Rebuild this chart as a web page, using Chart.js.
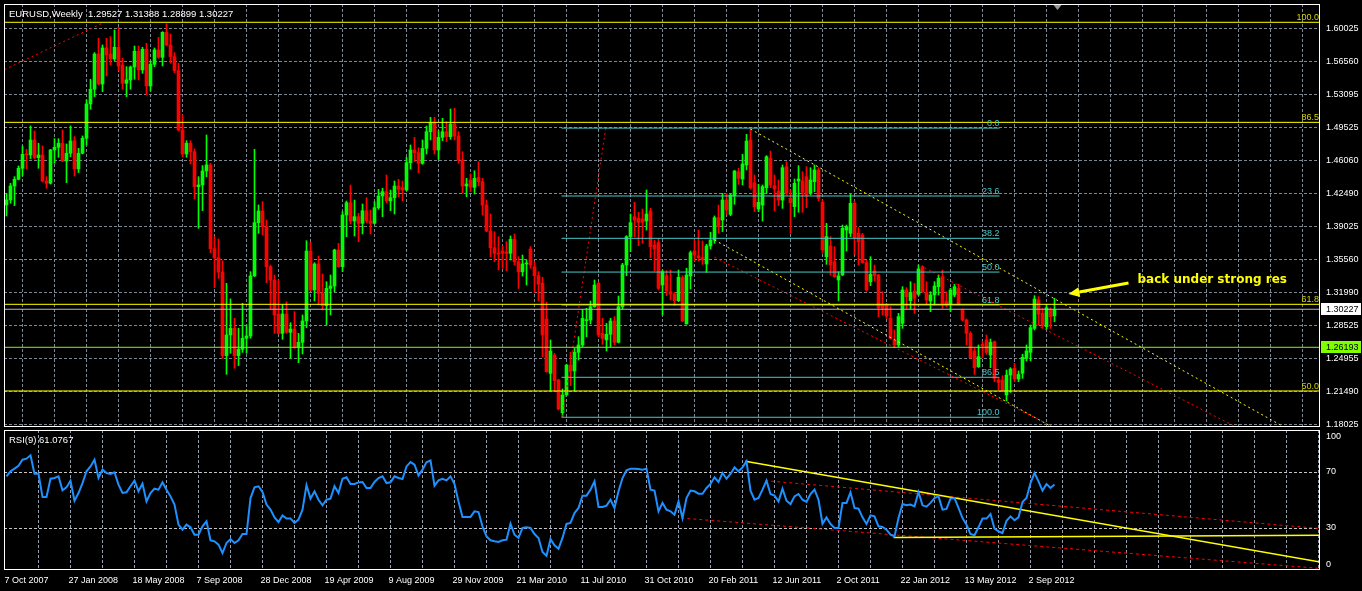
<!DOCTYPE html>
<html><head><meta charset="utf-8">
<script src="https://cdn.jsdelivr.net/npm/chart.js@4.4.1/dist/chart.umd.min.js"></script>
<style>
html,body{margin:0;padding:0;background:#000;width:1362px;height:591px;overflow:hidden}
#c1{position:absolute;left:0;top:0}
#c2{position:absolute;left:0;top:428px}
</style></head><body>
<canvas id="c1" width="1362" height="428"></canvas>
<canvas id="c2" width="1362" height="163"></canvas>
<script>
// ---------------- DATA ----------------
const titleText = 'EURUSD,Weekly  1.29527 1.31388 1.28899 1.30227';
const rsiTitle = 'RSI(9) 61.0767';
const dateLabels = ['7 Oct 2007','27 Jan 2008','18 May 2008','7 Sep 2008','28 Dec 2008','19 Apr 2009','9 Aug 2009','29 Nov 2009','21 Mar 2010','11 Jul 2010','31 Oct 2010','20 Feb 2011','12 Jun 2011','2 Oct 2011','22 Jan 2012','13 May 2012','2 Sep 2012'];
const priceTickValues = [1.60025,1.56525,1.53025,1.49525,1.46025,1.42525,1.39025,1.35525,1.32025,1.28525,1.25025,1.21525,1.18025];
const priceTickLabels = ['1.60025','1.56560','1.53095','1.49525','1.46060','1.42490','1.39025','1.35560','1.31990','1.28525','1.24955','1.21490','1.18025'];
const rsiTickValues = [95.7,70,30,4.1];
const rsiTickLabels = ['100','70','30','0'];

const openP = [
1.4129,1.4182,1.4330,1.4401,1.4518,1.4666,1.4659,1.4818,1.4631,1.4659,
1.4383,1.4359,1.4712,1.4740,1.4783,1.4595,1.4677,1.4808,1.4511,1.4677,
1.4836,1.5200,1.5356,1.5730,1.5412,1.5794,1.5730,1.5677,1.5801,1.5614,
1.5419,1.5455,1.5592,1.5759,1.5561,1.5780,1.5391,1.5621,1.5773,1.5695,
1.5960,1.5826,1.5702,1.5554,1.4924,1.4670,1.4783,1.4694,1.4323,1.4341,
1.4489,1.4553,1.3666,1.3570,1.3418,1.2531,1.2750,1.2821,1.2531,1.2598,
1.2715,1.2739,1.3376,1.3941,1.4065,1.3899,1.3474,1.3333,1.2972,1.2767,
1.2972,1.2778,1.2813,1.2619,1.2672,1.2898,1.3640,1.3227,1.3503,1.3191,
1.3061,1.3244,1.3269,1.3651,1.3474,1.4022,1.4153,1.3959,1.4005,1.3934,
1.4068,1.3959,1.3934,1.4100,1.4224,1.4270,1.4171,1.4206,1.4330,1.4312,
1.4287,1.4577,1.4712,1.4683,1.4570,1.4729,1.4906,1.5002,1.4712,1.4846,
1.4906,1.4853,1.4987,1.4860,1.4606,1.4330,1.4393,1.4316,1.4422,1.4376,
1.4128,1.3852,1.3676,1.3616,1.3640,1.3630,1.3616,1.3764,1.3527,1.3420,
1.3503,1.3662,1.3474,1.3379,1.3300,1.2919,1.2343,1.2537,1.2272,1.1926,
1.2113,1.2430,1.2368,1.2566,1.2644,1.2902,1.2909,1.3050,1.3298,1.2767,
1.2697,1.2757,1.2898,1.2672,1.3050,1.3492,1.3793,1.4005,1.3987,1.3980,
1.3959,1.4065,1.3704,1.3729,1.3280,1.3379,1.3209,1.3184,1.3114,1.3358,
1.2866,1.3376,1.3641,1.3591,1.3570,1.3503,1.3694,1.3757,1.3994,1.3969,
1.4181,1.4029,1.4227,1.4482,1.4404,1.4553,1.4818,1.4365,1.4086,1.4128,
1.4312,1.4623,1.4334,1.4277,1.4181,1.4535,1.4199,1.4111,1.4383,1.4383,
1.4429,1.4252,1.4376,1.4500,1.4157,1.3580,1.3694,1.3527,1.3333,1.3386,
1.3863,1.3828,1.4146,1.3828,1.3810,1.3517,1.3315,1.3428,1.3386,1.3075,
1.3068,1.2926,1.2697,1.2644,1.2873,1.3227,1.3114,1.3216,1.3181,1.3474,
1.3202,1.3110,1.3174,1.3262,1.3368,1.3110,1.3075,1.3174,1.3245,1.3015,
1.2909,1.2767,1.2580,1.2414,1.2650,1.2697,1.2537,1.2679,1.2272,1.2272,
1.2113,1.2325,1.2396,1.2283,1.2343,1.2502,1.2566,1.2820,1.3121,1.2979,
1.2838,1.3022,1.29527];

const highP = [
1.4253,1.4359,1.4429,1.4543,1.4755,1.4719,1.4967,1.4914,1.4783,1.4755,
1.4429,1.4719,1.4832,1.4832,1.4924,1.4776,1.4967,1.4854,1.4730,1.4861,
1.5243,1.5462,1.5745,1.5897,1.5826,1.5897,1.5914,1.5985,1.6013,1.5684,
1.5596,1.5603,1.5815,1.5815,1.5801,1.5844,1.5656,1.5794,1.5907,1.5967,
1.6049,1.5942,1.5745,1.5631,1.5083,1.4811,1.4811,1.4723,1.4429,1.4546,
1.4871,1.4571,1.3793,1.3768,1.3538,1.3298,1.3132,1.2927,1.2821,1.3086,
1.2856,1.3422,1.4719,1.4129,1.4164,1.3969,1.3492,1.3386,1.3333,1.3068,
1.3103,1.2880,1.2997,1.2767,1.2962,1.3750,1.3732,1.3517,1.3587,1.3397,
1.3315,1.3386,1.3660,1.3722,1.4058,1.4171,1.4340,1.4181,1.4040,1.4139,
1.4206,1.4075,1.4164,1.4295,1.4305,1.4447,1.4287,1.4383,1.4401,1.4383,
1.4634,1.4765,1.4846,1.4736,1.4818,1.4966,1.5058,1.5058,1.4917,1.5048,
1.5012,1.5147,1.5154,1.4906,1.4694,1.4411,1.4457,1.4492,1.4588,1.4411,
1.4181,1.4033,1.3845,1.3792,1.3693,1.3739,1.3800,1.3821,1.3580,1.3598,
1.3545,1.3686,1.3527,1.3421,1.3361,1.3096,1.2697,1.2555,1.2280,1.2177,
1.2440,1.2566,1.2608,1.2732,1.3022,1.3033,1.3110,1.3333,1.3308,1.2926,
1.2873,1.2926,1.2944,1.3163,1.3510,1.3803,1.4033,1.4157,1.4051,1.4086,
1.4288,1.4093,1.3757,1.3775,1.3439,1.3432,1.3439,1.3202,1.3439,1.3379,
1.3457,1.3641,1.3757,1.3863,1.3747,1.3711,1.3839,1.4012,1.4128,1.4252,
1.4252,1.4245,1.4495,1.4517,1.4666,1.4878,1.4935,1.4447,1.4348,1.4341,
1.4652,1.4701,1.4447,1.4394,1.4553,1.4588,1.4288,1.4404,1.4546,1.4482,
1.4535,1.4524,1.4553,1.4524,1.4181,1.3934,1.3793,1.3686,1.3421,1.3916,
1.3916,1.4242,1.4171,1.3888,1.3828,1.3545,1.3580,1.3492,1.3395,1.3209,
1.3086,1.3050,1.2803,1.2979,1.3262,1.3252,1.3315,1.3298,1.3492,1.3485,
1.3315,1.3209,1.3315,1.3386,1.3439,1.3209,1.3245,1.3287,1.3287,1.3025,
1.2920,1.2785,1.2608,1.2644,1.2679,1.2750,1.2707,1.2686,1.2290,1.2318,
1.2378,1.2403,1.2449,1.2368,1.2545,1.2644,1.2856,1.3167,1.3156,1.3033,
1.3075,1.3039,1.31388];

const lowP = [
1.4012,1.4147,1.4122,1.4395,1.4436,1.4511,1.4620,1.4620,1.4518,1.4373,
1.4306,1.4350,1.4571,1.4634,1.4588,1.4366,1.4641,1.4436,1.4472,1.4670,
1.4765,1.5144,1.5278,1.5402,1.5331,1.5497,1.5614,1.5660,1.5554,1.5356,
1.5278,1.5356,1.5462,1.5455,1.5525,1.5296,1.5338,1.5596,1.5684,1.5603,
1.5815,1.5631,1.5532,1.4914,1.4641,1.4634,1.4564,1.4192,1.3881,1.4069,
1.4429,1.3623,1.3252,1.3351,1.2502,1.2333,1.2556,1.2397,1.2425,1.2566,
1.2556,1.2715,1.3369,1.3828,1.3811,1.3305,1.3022,1.2767,1.2760,1.2704,
1.2767,1.2502,1.2608,1.2456,1.2548,1.2827,1.3220,1.3110,1.3068,1.3015,
1.2856,1.2962,1.3209,1.3467,1.3421,1.3792,1.3927,1.3799,1.3739,1.3821,
1.3941,1.3821,1.3927,1.4082,1.4005,1.4153,1.4068,1.4033,1.4217,1.4174,
1.4280,1.4510,1.4588,1.4471,1.4560,1.4669,1.4818,1.4669,1.4613,1.4811,
1.4800,1.4825,1.4818,1.4570,1.4259,1.4217,1.4270,1.4245,1.4330,1.4022,
1.3845,1.3580,1.3527,1.3439,1.3457,1.3432,1.3545,1.3492,1.3244,1.3375,
1.3280,1.3457,1.3202,1.3114,1.2520,1.2354,1.2156,1.2156,1.1954,1.1883,
1.2105,1.2212,1.2156,1.2484,1.2626,1.2732,1.2866,1.3043,1.2732,1.2651,
1.2580,1.2626,1.2644,1.2665,1.3025,1.3379,1.3633,1.3793,1.3697,1.3722,
1.3863,1.3570,1.3428,1.3227,1.2962,1.3167,1.3121,1.3061,1.3103,1.2891,
1.2866,1.3237,1.3534,1.3534,1.3499,1.3414,1.3662,1.3722,1.3828,1.3846,
1.4029,1.4015,1.4136,1.4348,1.4341,1.4500,1.4298,1.4058,1.4058,1.3959,
1.4252,1.4312,1.4065,1.4121,1.4093,1.4234,1.3828,1.4005,1.4051,1.4051,
1.4100,1.4234,1.4270,1.4171,1.3616,1.3499,1.3386,1.3360,1.3110,1.3380,
1.3641,1.3793,1.3605,1.3492,1.3510,1.3216,1.3273,1.3322,1.2944,1.2962,
1.2926,1.2707,1.2615,1.2626,1.2820,1.3025,1.3025,1.2979,1.3167,1.3202,
1.3075,1.2997,1.3068,1.3174,1.3033,1.3050,1.2997,1.3156,1.3068,1.2898,
1.2644,1.2502,1.2332,1.2405,1.2509,1.2545,1.2403,1.2255,1.2166,1.2149,
1.2050,1.2141,1.2255,1.2255,1.2290,1.2474,1.2474,1.2803,1.2856,1.2820,
1.2813,1.2820,1.28899];

const closeP = [
1.4182,1.4330,1.4401,1.4518,1.4666,1.4659,1.4818,1.4631,1.4659,1.4383,
1.4359,1.4712,1.4740,1.4783,1.4595,1.4677,1.4808,1.4511,1.4677,1.4836,
1.5200,1.5356,1.5730,1.5412,1.5794,1.5720,1.5677,1.5801,1.5603,1.5419,
1.5455,1.5592,1.5759,1.5561,1.5780,1.5391,1.5621,1.5773,1.5695,1.5960,
1.5826,1.5702,1.5554,1.4924,1.4670,1.4783,1.4694,1.4323,1.4341,1.4489,
1.4553,1.3666,1.3570,1.3418,1.2531,1.2750,1.2821,1.2531,1.2598,1.2715,
1.2739,1.3376,1.3941,1.4065,1.3899,1.3474,1.3333,1.2962,1.2767,1.2972,
1.2778,1.2813,1.2619,1.2672,1.2898,1.3640,1.3227,1.3503,1.3191,1.3061,
1.3244,1.3269,1.3651,1.3474,1.4022,1.4153,1.3959,1.4005,1.3934,1.4068,
1.3959,1.3934,1.4100,1.4224,1.4270,1.4171,1.4206,1.4330,1.4295,1.4287,
1.4577,1.4712,1.4683,1.4570,1.4729,1.4906,1.5002,1.4712,1.4846,1.4906,
1.4853,1.4987,1.4860,1.4606,1.4330,1.4351,1.4316,1.4411,1.4376,1.4128,
1.3852,1.3676,1.3616,1.3609,1.3616,1.3616,1.3764,1.3527,1.3420,1.3503,
1.3510,1.3492,1.3379,1.3290,1.2750,1.2361,1.2580,1.2265,1.1965,1.2113,
1.2430,1.2368,1.2566,1.2644,1.2926,1.2909,1.3050,1.3280,1.2750,1.2714,
1.2757,1.2898,1.2672,1.3050,1.3492,1.3793,1.3941,1.3969,1.3945,1.3945,
1.4033,1.3687,1.3662,1.3245,1.3421,1.3216,1.3184,1.3114,1.3361,1.2898,
1.3386,1.3623,1.3598,1.3570,1.3545,1.3694,1.3757,1.3994,1.3899,1.4181,
1.4075,1.4234,1.4489,1.4411,1.4563,1.4807,1.4312,1.4111,1.4157,1.4323,
1.4641,1.4341,1.4298,1.4181,1.4524,1.4252,1.4153,1.4358,1.4404,1.4263,
1.4234,1.4394,1.4500,1.4199,1.3651,1.3793,1.3492,1.3368,1.3375,1.3881,
1.3899,1.4146,1.3782,1.3740,1.3517,1.3227,1.3393,1.3379,1.3039,1.3033,
1.2951,1.2714,1.2644,1.2944,1.3227,1.3156,1.3202,1.3139,1.3450,1.3209,
1.3121,1.3174,1.3269,1.3351,1.3086,1.3075,1.3227,1.3262,1.3075,1.2909,
1.2767,1.2509,1.2403,1.2520,1.2636,1.2566,1.2672,1.2290,1.2247,1.2156,
1.2325,1.2389,1.2283,1.2332,1.2513,1.2580,1.2827,1.3131,1.2969,1.2856,
1.3039,1.2944,1.30227];

const rsi9 = [
66.9,70.5,72.4,74.5,78.8,79.5,81.9,68.8,68.8,52.1,
52.1,65.2,65.7,66.9,56.9,59.0,63.8,49.5,55.0,62.1,
70.5,74.0,78.8,65.7,71.7,69.3,68.6,69.8,61.0,55.0,
55.5,59.8,63.8,56.2,61.7,49.0,55.0,58.1,57.4,62.6,
57.4,52.6,46.7,32.4,28.8,32.4,30.5,25.2,25.2,31.2,
34.8,21.2,20.5,18.1,12.1,19.3,22.1,19.3,21.2,25.7,
25.7,51.4,59.0,59.8,55.7,46.7,43.1,37.6,34.3,39.0,
36.7,36.7,33.6,36.0,43.1,60.5,51.0,56.2,50.2,46.2,
50.2,51.0,59.8,55.0,65.2,66.2,61.4,61.4,62.6,62.9,
58.6,58.6,62.9,65.7,66.9,62.1,62.6,66.9,65.7,65.0,
74.0,77.1,75.2,67.4,71.7,76.9,78.3,60.2,64.0,65.2,
64.0,66.9,61.4,49.0,37.9,37.9,37.9,41.9,41.4,31.2,
24.0,21.2,20.5,20.0,21.2,21.7,33.1,25.2,22.9,30.0,
30.5,30.0,25.7,22.9,12.9,10.2,22.1,17.6,15.2,22.9,
32.9,33.6,40.7,44.3,53.1,53.1,57.4,63.3,45.0,45.0,
46.0,50.2,44.3,56.2,65.7,71.2,72.4,72.4,72.1,71.7,
72.4,57.4,56.7,41.9,47.9,43.1,41.9,39.5,49.0,37.1,
51.4,56.7,56.2,54.5,54.5,58.6,61.5,66.2,62.9,69.3,
65.2,68.6,73.3,70.5,73.3,77.6,56.7,50.2,51.4,57.4,
63.8,54.3,53.1,49.0,58.1,49.5,47.1,52.6,54.3,50.2,
48.6,54.3,57.4,50.2,33.1,37.6,32.9,30.0,30.0,47.9,
47.9,55.5,44.3,43.8,37.6,32.9,39.0,38.3,31.2,30.7,
28.8,25.2,24.0,37.1,47.1,46.2,46.7,45.5,55.7,46.2,
45.2,47.9,51.4,52.6,43.1,43.6,51.0,51.4,44.3,37.1,
32.4,25.7,24.8,30.5,36.7,36.7,40.0,29.5,27.6,26.4,
35.2,38.3,35.5,37.6,48.6,51.4,62.1,69.3,63.3,56.7,
61.4,58.6,61.08];

// horizontal levels (full width)
const yellowFibLabels = ['100.0','86.5','61.8','50.0'];
const yellowFibPrices = [1.6066,1.5005,1.3075,1.2156];
const currentPrice = 1.30227;
const greenLevel = 1.26193;
// cyan fibonacci retracement
const cyanFibLabels = ['0.0','23.6','38.2','50.0','61.8','86.5','100.0'];
const cyanFibPrices = [1.4944,1.4224,1.3775,1.3417,1.3068,1.2301,1.1877];
const cyanFibFrom = 138.75, cyanFibTo = 248.25;
// trend lines on price panel [x1, y1, x2, y2]
const redDotLines = [[-0.5,1.5564,24.25,1.6062],[139,1.1883,149.8,1.4942],[177,1.3574,261.75,1.1774],[229.5,1.3463,307.25,1.1777]];
const yellowDotLines = [[186,1.4934,318.5,1.1795],[177,1.3757,261.4,1.1774]];
// RSI panel lines
const rsiYellowLines = [[184.7,77.6,328.5,5.6],[221.75,23.3,328.5,24.8]];
const rsiRedDotLines = [[189.7,63.8,328.5,29.6],[168.7,37.1,328.5,1.1]];
// annotation (data units)
const noteText = 'back under strong res';
const noteAt = [282.75, 1.3306];
const arrowFrom = [280.5, 1.3301], arrowTo = [265.5, 1.3184];
const shiftMark = 262.75;

// ---------------- STYLE ----------------
const GREEN = '#00ff00', RED = '#ff0000', YEL = '#ffff00', CYAN = '#48c8c8';
const FONT = '"Liberation Sans", Arial, sans-serif';
const XMIN = -0.625, XMAX = 328.375;
const gridSlots = []; for (let v = 8; v <= 328; v += 8) gridSlots.push(v);
const labelSlots = [0].concat(gridSlots);
Chart.defaults.font.family = FONT;
Chart.defaults.font.size = 9;
Chart.defaults.animation = false;

const idx = closeP.map((_, i) => i);
const candleColor = idx.map(i => closeP[i] >= openP[i] ? GREEN : RED);

function line(pts, color, dash, width) {
  return {type: 'line', data: pts, borderColor: color, borderWidth: width || 1, borderDash: dash || [],
    pointRadius: 0, pointHoverRadius: 0, fill: false, tension: 0, order: 0};
}
const seg = s => [{x: s[0], y: s[1]}, {x: s[2], y: s[3]}];
const noPadV = s => { s.width = 42; s.paddingTop = 0; s.paddingBottom = 0; };

// ---------------- PRICE CHART ----------------
const ds1 = [
  {type: 'bar', data: idx.map(i => ({x: i, y: [openP[i], closeP[i]]})), backgroundColor: candleColor,
    barThickness: 3, minBarLength: 1, grouped: false, order: 1},
  {type: 'bar', data: idx.map(i => ({x: i, y: [lowP[i], highP[i]]})), backgroundColor: candleColor,
    barThickness: 1, minBarLength: 1, grouped: false, order: 2}
];
yellowFibPrices.forEach(p => ds1.push(line(seg([XMIN, p, XMAX, p]), YEL)));
ds1.push(line(seg([XMIN, currentPrice, XMAX, currentPrice]), '#b4b8c0'));
ds1.push(line(seg([XMIN, greenLevel, XMAX, greenLevel]), '#86f21c'));
cyanFibPrices.forEach(p => ds1.push(line(seg([cyanFibFrom, p, cyanFibTo, p]), CYAN)));
redDotLines.forEach(s => ds1.push(line(seg(s), RED, [2, 3])));
yellowDotLines.forEach(s => ds1.push(line(seg(s), YEL, [2, 3])));

const overlay1 = {
  id: 'overlay1',
  afterDraw(chart) {
    const {ctx, chartArea: a, scales: {x, y}} = chart;
    ctx.save();
    ctx.strokeStyle = '#ffffff'; ctx.lineWidth = 1;
    ctx.strokeRect(a.left + 0.5, a.top + 0.5, a.right - a.left - 1, a.bottom - a.top - 1);
    // title
    ctx.fillStyle = '#ffffff'; ctx.font = '9.5px ' + FONT; ctx.textAlign = 'left'; ctx.textBaseline = 'alphabetic';
    ctx.fillText(titleText, a.left + 5, a.top + 12.5);
    // fib labels
    ctx.font = '9px ' + FONT; ctx.textAlign = 'right';
    ctx.fillStyle = '#d2d200';
    yellowFibPrices.forEach((p, i) => ctx.fillText(yellowFibLabels[i], a.right - 1, y.getPixelForValue(p) - 2));
    ctx.fillStyle = CYAN;
    const cx = x.getPixelForValue(cyanFibTo);
    cyanFibPrices.forEach((p, i) => ctx.fillText(cyanFibLabels[i], cx, y.getPixelForValue(p) - 2));
    // price tags on axis
    [[currentPrice, '#ffffff', '1.30227'], [greenLevel, '#7fff00', '1.26193']].forEach(t => {
      const py = Math.round(y.getPixelForValue(t[0]));
      ctx.fillStyle = t[1]; ctx.fillRect(a.right + 1, py - 6, 40, 12);
      ctx.fillStyle = '#000000'; ctx.textAlign = 'left'; ctx.textBaseline = 'middle';
      ctx.fillText(t[2], a.right + 6, py + 0.5);
    });
    // annotation
    ctx.fillStyle = YEL; ctx.font = 'bold 12px "DejaVu Sans", sans-serif'; ctx.textAlign = 'left'; ctx.textBaseline = 'alphabetic';
    ctx.fillText(noteText, x.getPixelForValue(noteAt[0]), y.getPixelForValue(noteAt[1]));
    const x1 = x.getPixelForValue(arrowFrom[0]), y1 = y.getPixelForValue(arrowFrom[1]);
    const x2 = x.getPixelForValue(arrowTo[0]), y2 = y.getPixelForValue(arrowTo[1]);
    const ang = Math.atan2(y2 - y1, x2 - x1);
    const hl = 11, hw = 5;
    const bx = x2 - hl * Math.cos(ang), by = y2 - hl * Math.sin(ang);
    ctx.strokeStyle = YEL; ctx.lineWidth = 3;
    ctx.beginPath(); ctx.moveTo(x1, y1); ctx.lineTo(bx, by); ctx.stroke();
    ctx.beginPath(); ctx.moveTo(x2, y2);
    ctx.lineTo(bx + hw * Math.sin(ang), by - hw * Math.cos(ang));
    ctx.lineTo(bx - hw * Math.sin(ang), by + hw * Math.cos(ang));
    ctx.closePath(); ctx.fill();
    // chart shift marker
    const sx = x.getPixelForValue(shiftMark);
    ctx.fillStyle = '#9a9a9a';
    ctx.beginPath(); ctx.moveTo(sx - 4, a.top + 1); ctx.lineTo(sx + 4, a.top + 1); ctx.lineTo(sx, a.top + 6); ctx.closePath(); ctx.fill();
    ctx.restore();
  }
};

new Chart(document.getElementById('c1'), {
  type: 'bar',
  data: {datasets: ds1},
  options: {
    responsive: false, animation: false, events: [],
    layout: {padding: {left: 4, top: 4, right: 0, bottom: 1}},
    plugins: {legend: {display: false}, tooltip: {enabled: false}},
    scales: {
      x: {type: 'linear', min: XMIN, max: XMAX, offset: false, position: 'bottom',
        afterBuildTicks: s => { s.ticks = gridSlots.map(v => ({value: v})); },
        ticks: {display: false}, grid: {color: '#7d8794', drawTicks: false},
        border: {display: false, dash: [3, 2]},
        afterFit: s => { s.height = 0; s.paddingLeft = 0; s.paddingRight = 0; }},
      y: {type: 'linear', position: 'right', min: 1.17739, max: 1.62602,
        afterBuildTicks: s => { s.ticks = priceTickValues.map(v => ({value: v})); },
        ticks: {color: '#ffffff', padding: 6, font: {size: 9}, callback: (v, i) => priceTickLabels[i]},
        grid: {color: '#7d8794', drawTicks: false},
        border: {display: false, dash: [3, 2]},
        afterFit: noPadV}
    }
  },
  plugins: [overlay1]
});

// ---------------- RSI CHART ----------------
const ds2 = [line(idx.map(i => ({x: i, y: rsi9[i]})), '#1e90ff', [], 2)];
rsiYellowLines.forEach(s => ds2.push(line(seg(s), YEL, [], 1.5)));
rsiRedDotLines.forEach(s => ds2.push(line(seg(s), RED, [3, 3])));

const overlay2 = {
  id: 'overlay2',
  afterDraw(chart) {
    const {ctx, chartArea: a} = chart;
    ctx.save();
    ctx.strokeStyle = '#ffffff'; ctx.lineWidth = 1;
    ctx.strokeRect(a.left + 0.5, a.top + 0.5, a.right - a.left - 1, a.bottom - a.top - 1);
    ctx.fillStyle = '#ffffff'; ctx.font = '9.5px ' + FONT; ctx.textAlign = 'left'; ctx.textBaseline = 'alphabetic';
    ctx.fillText(rsiTitle, a.left + 5, a.top + 13);
    ctx.restore();
  }
};

new Chart(document.getElementById('c2'), {
  type: 'line',
  data: {datasets: ds2},
  options: {
    responsive: false, animation: false, events: [],
    layout: {padding: {left: 4, top: 2, right: 0, bottom: 0}},
    plugins: {legend: {display: false}, tooltip: {enabled: false}},
    scales: {
      x: {type: 'linear', min: XMIN, max: XMAX, offset: false, position: 'bottom',
        afterBuildTicks: s => { s.ticks = labelSlots.map(v => ({value: v})); },
        ticks: {color: '#ffffff', align: 'start', labelOffset: -2, padding: 5, maxRotation: 0, minRotation: 0,
          autoSkip: false, font: {size: 9},
          callback: v => (v % 16 === 0 && v / 16 < dateLabels.length) ? dateLabels[v / 16] : ''},
        grid: {color: c => (c.tick && c.tick.value === 0) ? 'rgba(0,0,0,0)' : '#959cab', drawTicks: false},
        border: {display: false, dash: [3, 2]},
        afterFit: s => { s.height = 21; s.paddingLeft = 0; s.paddingRight = 0; }},
      y: {type: 'linear', position: 'right', min: 0, max: 100,
        afterBuildTicks: s => { s.ticks = rsiTickValues.map(v => ({value: v})); },
        ticks: {color: '#ffffff', padding: 6, font: {size: 9}, callback: (v, i) => rsiTickLabels[i]},
        grid: {color: c => (c.tick && (c.tick.value === 70 || c.tick.value === 30)) ? '#c4c4c4' : 'rgba(0,0,0,0)', drawTicks: false},
        border: {display: false, dash: [3, 2]},
        afterFit: noPadV}
    }
  },
  plugins: [overlay2]
});
</script>
</body></html>
